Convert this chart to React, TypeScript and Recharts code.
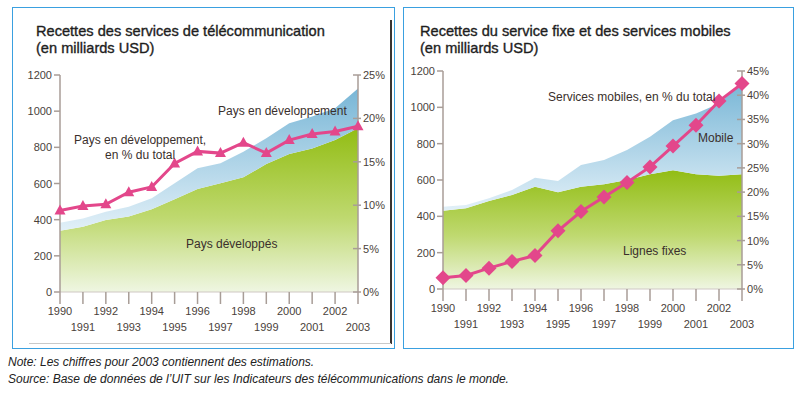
import React from 'react';
import { ComposedChart, Area, Line, XAxis, YAxis } from 'recharts';

const years = [1990, 1991, 1992, 1993, 1994, 1995, 1996, 1997, 1998, 1999, 2000, 2001, 2002, 2003];

// left chart: total revenue split developed / developing (USD bn), developing share (%)
const developedRevenue = [339, 361, 398, 417, 457, 513, 570, 601, 634, 708, 763, 794, 841, 905];
const totalRevenue = [383, 407, 444, 472, 518, 601, 684, 712, 776, 850, 933, 970, 1016, 1126];
const developingShare = [9.4, 9.9, 10.1, 11.5, 12.1, 14.8, 16.2, 16.0, 17.2, 16.0, 17.5, 18.2, 18.5, 19.1];

// right chart: fixed lines vs mobile (USD bn), mobile share (%)
const fixedRevenue = [431, 445, 485, 518, 563, 532, 563, 576, 600, 631, 653, 631, 624, 631];
const fixedMobileTotal = [453, 463, 500, 545, 613, 595, 682, 710, 765, 838, 929, 966, 1021, 1140];
const mobileShare = [2.3, 2.8, 4.3, 5.7, 6.9, 12.0, 16.0, 19.0, 22.0, 25.2, 29.5, 33.8, 38.8, 42.4];

const usdTicks = [0, 200, 400, 600, 800, 1000, 1200];
const pctTicksLeft = [0, 5, 10, 15, 20, 25];
const pctTicksRight = [0, 5, 10, 15, 20, 25, 30, 35, 40, 45];

const leftData = years.map((year, i) => ({
  year,
  developed: developedRevenue[i],
  developing: totalRevenue[i] - developedRevenue[i],
  share: developingShare[i],
}));

const rightData = years.map((year, i) => ({
  year,
  fixed: fixedRevenue[i],
  mobile: fixedMobileTotal[i] - fixedRevenue[i],
  share: mobileShare[i],
}));

const FONT = '"Liberation Sans", Arial, sans-serif';
const AXIS = '#a89d97';
const TICK_TEXT = '#4a3f3b';
const PINK = '#e3478b';
const BORDER = '#3aa0e0';

const YearTick = (p: any) => {
  const { x, y, payload } = p;
  const even = payload.value % 2 === 0;
  return (
    <g>
      <line x1={x} x2={x} y1={y} y2={y + 12} stroke={AXIS} strokeWidth={1.5} />
      <text x={x} y={y + (even ? 23 : 39)} textAnchor="middle" fontSize={11} fill={TICK_TEXT} fontFamily={FONT}>
        {payload.value}
      </text>
    </g>
  );
};

const LeftTick = (p: any) => {
  const { x, y, payload } = p;
  return (
    <g>
      <line x1={x - 6} x2={x} y1={y} y2={y} stroke={AXIS} strokeWidth={1.5} />
      <text x={x - 8} y={y + 4} textAnchor="end" fontSize={11} fill={TICK_TEXT} fontFamily={FONT}>
        {payload.value}
      </text>
    </g>
  );
};

const RightTick = (p: any) => {
  const { x, y, payload } = p;
  return (
    <g>
      <line x1={x - 5} x2={x + 3} y1={y} y2={y} stroke={AXIS} strokeWidth={1.5} />
      <text x={x + 5} y={y + 4} textAnchor="start" fontSize={11} fill={TICK_TEXT} fontFamily={FONT}>
        {payload.value}%
      </text>
    </g>
  );
};

const Triangle = (p: any) => {
  const { cx, cy } = p;
  if (cx == null || cy == null) return null;
  return <path d={`M${cx},${cy - 6} L${cx + 5.5},${cy + 4} L${cx - 5.5},${cy + 4} Z`} fill={PINK} />;
};

const Diamond = (p: any) => {
  const { cx, cy } = p;
  if (cx == null || cy == null) return null;
  return <path d={`M${cx},${cy - 7.5} L${cx + 7.5},${cy} L${cx},${cy + 7.5} L${cx - 7.5},${cy} Z`} fill={PINK} />;
};

const Gradients = ({ id }: { id: string }) => (
  <defs>
    <linearGradient id={`green-${id}`} x1="0" y1="0" x2="0" y2="1">
      <stop offset="0%" stopColor="#92bd14" />
      <stop offset="55%" stopColor="#bfd970" />
      <stop offset="100%" stopColor="#eff6e2" />
    </linearGradient>
    <linearGradient id={`blue-${id}`} x1="0" y1="0" x2="0" y2="1">
      <stop offset="0%" stopColor="#78b6d6" />
      <stop offset="100%" stopColor="#e2f0f8" />
    </linearGradient>
  </defs>
);

const Note = ({ x, y, children, align = 'left' }: any) => (
  <div
    style={{
      position: 'absolute',
      left: x,
      top: y,
      fontSize: 12,
      color: '#3a2f2c',
      whiteSpace: 'nowrap',
      textAlign: align,
      lineHeight: '15px',
    }}
  >
    {children}
  </div>
);

const Title = ({ x, children }: any) => (
  <div
    style={{
      position: 'absolute',
      left: x,
      top: 23,
      fontSize: 14.6,
      lineHeight: '17px',
      color: '#1e1e1e',
      whiteSpace: 'nowrap',
      WebkitTextStroke: '0.35px #1e1e1e',
    }}
  >
    {children}
  </div>
);

export default function App() {
  return (
    <div style={{ position: 'absolute', left: 0, top: 0, width: 800, height: 395, background: '#fff', fontFamily: FONT }}>
      {/* panel frames */}
      <div style={{ position: 'absolute', left: 12, top: 7, width: 383, height: 342, border: `1.5px solid ${BORDER}`, boxSizing: 'border-box' }} />
      <div style={{ position: 'absolute', left: 390, top: 20, width: 1.5, height: 324, background: '#3a3533' }} />
      <div style={{ position: 'absolute', left: 29, top: 343, width: 362, height: 1, background: '#c9c9c9' }} />
      <div style={{ position: 'absolute', left: 403, top: 7, width: 391, height: 342, border: `1.5px solid ${BORDER}`, boxSizing: 'border-box' }} />

      <Title x={36}>
        Recettes des services de télécommunication
        <br />
        (en milliards USD)
      </Title>
      <Title x={420}>
        Recettes du service fixe et des services mobiles
        <br />
        (en milliards USD)
      </Title>

      <div style={{ position: 'absolute', left: 0, top: 0 }}>
        <ComposedChart width={400} height={345} data={leftData} margin={{ top: 75, right: 0, bottom: 0, left: 0 }}>
          <Gradients id="l" />
          <XAxis
            dataKey="year"
            scale="point"
            padding={{ left: 0, right: 0 }}
            interval={0}
            height={53}
            tickSize={0}
            tickMargin={0}
            tickLine={false}
            axisLine={{ stroke: '#cfc8c3' }}
            tick={YearTick}
          />
          <YAxis
            yAxisId="usd"
            domain={[0, 1200]}
            ticks={usdTicks}
            interval={0}
            width={60}
            tickSize={0}
            tickMargin={0}
            tickLine={false}
            axisLine={{ stroke: AXIS, strokeWidth: 1.5 }}
            tick={LeftTick}
          />
          <YAxis
            yAxisId="pct"
            orientation="right"
            domain={[0, 25]}
            ticks={pctTicksLeft}
            interval={0}
            width={42}
            tickSize={0}
            tickMargin={0}
            tickLine={false}
            axisLine={{ stroke: AXIS, strokeWidth: 1.5 }}
            tick={RightTick}
          />
          <Area yAxisId="usd" type="linear" dataKey="developed" stackId="a" stroke="none" fill="url(#green-l)" fillOpacity={1} isAnimationActive={false} />
          <Area yAxisId="usd" type="linear" dataKey="developing" stackId="a" stroke="none" fill="url(#blue-l)" fillOpacity={1} isAnimationActive={false} />
          <Line yAxisId="pct" type="linear" dataKey="share" stroke={PINK} strokeWidth={3} dot={Triangle} activeDot={false} isAnimationActive={false} />
        </ComposedChart>
      </div>

      <div style={{ position: 'absolute', left: 400, top: 0 }}>
        <ComposedChart width={400} height={345} data={rightData} margin={{ top: 71, right: 0, bottom: 0, left: 0 }}>
          <Gradients id="r" />
          <XAxis
            dataKey="year"
            scale="point"
            padding={{ left: 0, right: 0 }}
            interval={0}
            height={56}
            tickSize={0}
            tickMargin={0}
            tickLine={false}
            axisLine={{ stroke: '#cfc8c3' }}
            tick={YearTick}
          />
          <YAxis
            yAxisId="usd"
            domain={[0, 1200]}
            ticks={usdTicks}
            interval={0}
            width={43}
            tickSize={0}
            tickMargin={0}
            tickLine={false}
            axisLine={{ stroke: AXIS, strokeWidth: 1.5 }}
            tick={LeftTick}
          />
          <YAxis
            yAxisId="pct"
            orientation="right"
            domain={[0, 45]}
            ticks={pctTicksRight}
            interval={0}
            width={58}
            tickSize={0}
            tickMargin={0}
            tickLine={false}
            axisLine={{ stroke: AXIS, strokeWidth: 1.5 }}
            tick={RightTick}
          />
          <Area yAxisId="usd" type="linear" dataKey="fixed" stackId="a" stroke="none" fill="url(#green-r)" fillOpacity={1} isAnimationActive={false} />
          <Area yAxisId="usd" type="linear" dataKey="mobile" stackId="a" stroke="none" fill="url(#blue-r)" fillOpacity={1} isAnimationActive={false} />
          <Line yAxisId="pct" type="linear" dataKey="share" stroke={PINK} strokeWidth={3} dot={Diamond} activeDot={false} isAnimationActive={false} />
        </ComposedChart>
      </div>

      {/* in-plot labels */}
      <Note x={218} y={104}>Pays en développement</Note>
      <Note x={74} y={133} align="center">
        Pays en développement,
        <br />
        en % du total
      </Note>
      <Note x={186} y={237}>Pays développés</Note>
      <Note x={548} y={90}>Services mobiles, en % du total</Note>
      <Note x={698} y={131}>Mobile</Note>
      <Note x={623} y={244}>Lignes fixes</Note>

      <div style={{ position: 'absolute', left: 8, top: 354, fontSize: 12, lineHeight: '17px', fontStyle: 'italic', color: '#222', whiteSpace: 'nowrap' }}>
        Note: Les chiffres pour 2003 contiennent des estimations.
        <br />
        Source: Base de données de l’UIT sur les Indicateurs des télécommunications dans le monde.
      </div>
    </div>
  );
}
